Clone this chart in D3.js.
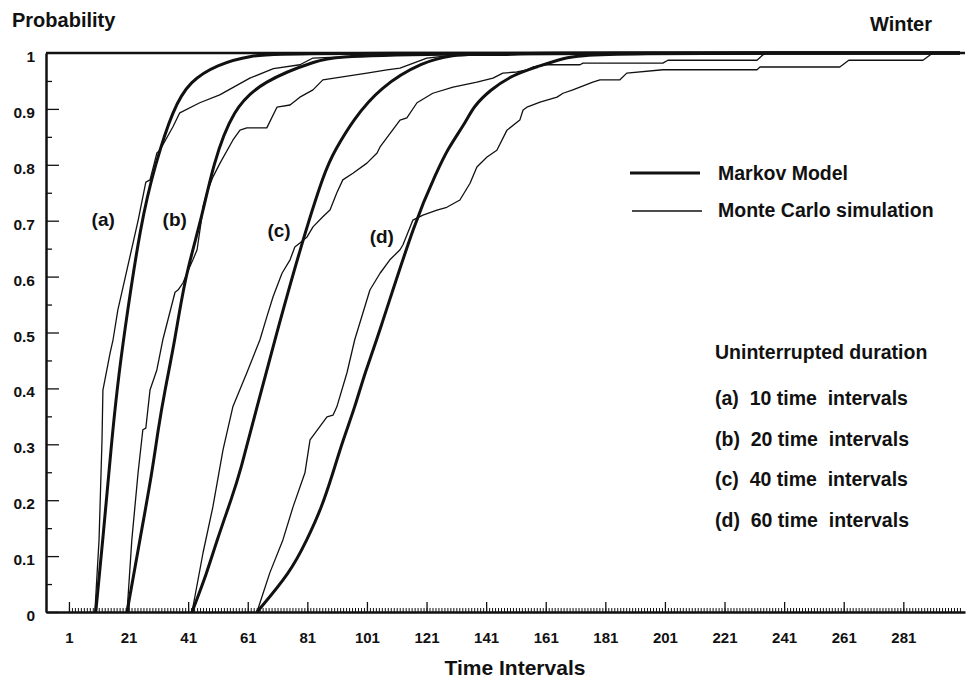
<!DOCTYPE html>
<html>
<head>
<meta charset="utf-8">
<script src="https://cdn.jsdelivr.net/npm/d3@7"></script>
<style>
  body { margin: 0; background: #fff; }
  svg text { font-family: "Liberation Sans", Arial, sans-serif; font-weight: bold; fill: #111; }
</style>
</head>
<body>
<svg id="chart" width="968" height="680"></svg>
<script>
// Cumulative probability of an uninterrupted run, per time interval [t, p]
const markovA = [[10,0],[12.4,0.13],[15.4,0.31],[17.2,0.40],[19.3,0.49],[25.2,0.70],[29.9,0.80],[35.9,0.90],[41.6,0.95],[50.7,0.979],[61.7,0.996],[75,1],[300,1]];
const markovB = [[20.5,0],[24.8,0.129],[28.9,0.249],[30.9,0.326],[33.2,0.397],[36.6,0.487],[39.9,0.599],[45.6,0.705],[49.3,0.80],[56,0.90],[66.1,0.95],[84.2,0.987],[95,1],[300,1]];
const markovC = [[42.3,0],[47.3,0.07],[50.7,0.129],[55.7,0.205],[58.4,0.249],[64.1,0.367],[70.1,0.487],[78.5,0.649],[86.9,0.791],[90.3,0.826],[96.3,0.88],[105.4,0.939],[119.8,0.985],[129.9,0.996],[139,1],[300,1]];
const markovD = [[64.1,0],[75.2,0.07],[80.9,0.129],[85.9,0.188],[89.6,0.249],[93,0.308],[97,0.367],[100.3,0.428],[104.4,0.487],[117.4,0.705],[124.8,0.791],[127.8,0.826],[134.6,0.88],[136.6,0.903],[142.3,0.934],[150,0.961],[158,0.975],[166.8,0.991],[176,1],[300,1]];

const monteA = [[9.7,0],[11.1,0.129],[12.1,0.308],[12.4,0.397],[14.8,0.463],[15.8,0.487],[17.4,0.54],[24.2,0.70],[26.8,0.769],[28.2,0.773],[30.5,0.821],[31.5,0.826],[35.9,0.868],[38.2,0.893],[44.9,0.911],[51.6,0.925],[61.7,0.955],[69.6,0.972],[78.5,0.979],[82.9,0.991],[105.4,0.996],[127.8,1],[300,1]];
const monteB = [[20.5,0],[22.1,0.129],[24.2,0.249],[25.8,0.326],[26.8,0.329],[28.2,0.397],[30.5,0.433],[32.5,0.487],[36.6,0.572],[37.6,0.576],[39.3,0.589],[40.6,0.606],[42.6,0.63],[44,0.648],[45.6,0.707],[46,0.725],[47.3,0.75],[49.3,0.778],[51.7,0.803],[56,0.844],[58.4,0.862],[60.7,0.866],[67.4,0.866],[70.8,0.903],[75.2,0.907],[78.5,0.921],[82.9,0.934],[86.2,0.952],[101,0.964],[107.7,0.97],[112.1,0.973],[121.1,0.991],[129.9,0.996],[148,0.996],[159.1,1],[300,1]];
const monteC = [[42.3,0],[46,0.106],[49.3,0.188],[52.7,0.29],[56,0.367],[60.7,0.428],[65.1,0.487],[67.4,0.528],[69.5,0.564],[72.5,0.606],[75.2,0.63],[76.8,0.653],[78.5,0.66],[80.9,0.671],[82.9,0.689],[86.2,0.707],[88.6,0.719],[90.9,0.75],[92.9,0.773],[96.3,0.785],[101,0.803],[104.4,0.821],[105.4,0.832],[112.1,0.88],[114.4,0.884],[117.8,0.911],[123.1,0.928],[129.9,0.939],[137.9,0.948],[143.3,0.955],[146.6,0.964],[151.3,0.966],[154.7,0.97],[156.7,0.975],[161.4,0.979],[172.5,0.979],[173.5,0.982],[200.3,0.982],[202,0.987],[231.9,0.987],[234.6,1],[300,1]];
const monteD = [[64.1,0],[68.4,0.07],[72.8,0.129],[76.2,0.188],[80.2,0.249],[81.9,0.308],[87.6,0.349],[89.6,0.352],[90.9,0.367],[94.3,0.428],[96.9,0.487],[102,0.576],[105.4,0.606],[108.7,0.63],[112.1,0.648],[113.1,0.657],[116.4,0.701],[119.8,0.71],[124.5,0.719],[127.8,0.724],[132.2,0.737],[135.6,0.767],[137.9,0.796],[141.3,0.814],[144.6,0.826],[148,0.862],[152.3,0.88],[153.4,0.898],[154.7,0.903],[159.1,0.912],[164.8,0.921],[166.8,0.928],[170.1,0.934],[176.8,0.948],[179.2,0.952],[185.9,0.952],[188.2,0.964],[200.3,0.97],[231.9,0.97],[232.9,0.975],[259.7,0.975],[262.7,0.987],[287.6,0.987],[290.9,1],[300,1]];

const curveLabels = ["(a)", "(b)", "(c)", "(d)"];
const curveLabelAt = [[12.5, 0.69], [36.5, 0.69], [71.5, 0.67], [106, 0.66]];
const legendNames = ["Markov Model", "Monte Carlo simulation"];
const durationTitle = "Uninterrupted duration";
const durationNotes = ["(a)  10 time  intervals", "(b)  20 time  intervals", "(c)  40 time  intervals", "(d)  60 time  intervals"];

const xTicks = [1, 21, 41, 61, 81, 101, 121, 141, 161, 181, 201, 221, 241, 261, 281];
const xMinorTicks = d3.range(1, 301);
const yTicks = [0, 0.1, 0.2, 0.3, 0.4, 0.5, 0.6, 0.7, 0.8, 0.9, 1];
const yMinorTicks = [0.05, 0.15, 0.25, 0.35, 0.45, 0.55, 0.65, 0.75, 0.85, 0.95];

const svg = d3.select("#chart");
const ink = "#111";

const x = d3.scaleLinear().domain([-6.7, 301.7]).range([46, 965]);
const y = d3.scaleLinear().domain([0, 1]).range([612, 53]);

// frame line at probability 1
svg.append("line")
  .attr("x1", x.range()[0]).attr("x2", x.range()[1])
  .attr("y1", y(1)).attr("y2", y(1))
  .attr("stroke", ink).attr("stroke-width", 2.5);

// x axis: dense unit ticks plus labelled major ticks, all pointing up
const xMinor = svg.append("g").attr("transform", `translate(0,${y(0)})`)
  .call(d3.axisBottom(x).tickValues(xMinorTicks).tickSize(-4).tickFormat(""));
xMinor.select(".domain").remove();
xMinor.selectAll(".tick line").attr("stroke", ink).attr("stroke-width", 1);

const xAxis = svg.append("g").attr("transform", `translate(0,${y(0)})`)
  .call(d3.axisBottom(x).tickValues(xTicks).tickSizeInner(-10).tickSizeOuter(0).tickPadding(20));
xAxis.select(".domain").attr("stroke", ink).attr("stroke-width", 2.5);
xAxis.selectAll(".tick line").attr("stroke", ink).attr("stroke-width", 1.3);
xAxis.selectAll(".tick text").attr("font-size", 15).attr("fill", ink);

// y axis: labelled tenths and short half-step ticks, pointing right
const yMinor = svg.append("g").attr("transform", `translate(${x.range()[0]},0)`)
  .call(d3.axisLeft(y).tickValues(yMinorTicks).tickSize(-6).tickFormat(""));
yMinor.select(".domain").remove();
yMinor.selectAll(".tick line").attr("stroke", ink).attr("stroke-width", 1.3);

const yAxis = svg.append("g").attr("transform", `translate(${x.range()[0]},0)`)
  .call(d3.axisLeft(y).tickValues(yTicks).tickSizeInner(-13).tickSizeOuter(0).tickPadding(11)
    .tickFormat(d => d === 0 ? "0" : d === 1 ? "1" : d3.format(".1f")(d)));
yAxis.select(".domain").attr("stroke", ink).attr("stroke-width", 2.5);
yAxis.selectAll(".tick line").attr("stroke", ink).attr("stroke-width", 1.3);
yAxis.selectAll(".tick text").attr("font-size", 15.5).attr("dy", "0.55em").attr("fill", ink);
yAxis.selectAll(".tick").filter(d => d === 1).select("line").remove();

// curves: smooth model curves, jagged simulated ones
const smooth = d3.line().x(d => x(d[0])).y(d => y(d[1])).curve(d3.curveBasis);
const jagged = d3.line().x(d => x(d[0])).y(d => y(d[1]));

const plot = svg.append("g").attr("fill", "none").attr("stroke", ink).attr("stroke-linejoin", "round");
[monteA, monteB, monteC, monteD].forEach(s => {
  plot.append("path").attr("d", jagged(s)).attr("stroke-width", 1.3);
});
[markovA, markovB, markovC, markovD].forEach(s => {
  plot.append("path").attr("d", smooth(s)).attr("stroke-width", 3);
});

// curve tags
svg.append("g").selectAll("text").data(curveLabels).join("text")
  .attr("x", (d, i) => x(curveLabelAt[i][0]))
  .attr("y", (d, i) => y(curveLabelAt[i][1]))
  .attr("text-anchor", "middle").attr("font-size", 19)
  .text(d => d);

// titles
svg.append("text").attr("x", 12).attr("y", 27).attr("font-size", 20).text("Probability");
svg.append("text").attr("x", 932).attr("y", 31).attr("font-size", 20).attr("text-anchor", "end").text("Winter");
svg.append("text").attr("x", 515).attr("y", 675).attr("font-size", 21).attr("text-anchor", "middle").text("Time Intervals");

// legend
const legend = svg.append("g");
legend.append("line").attr("x1", 630).attr("x2", 700).attr("y1", 173).attr("y2", 173)
  .attr("stroke", ink).attr("stroke-width", 3);
legend.append("line").attr("x1", 632).attr("x2", 702).attr("y1", 211).attr("y2", 211)
  .attr("stroke", ink).attr("stroke-width", 1.3);
legend.selectAll("text.name").data(legendNames).join("text").attr("class", "name")
  .attr("x", 718).attr("y", (d, i) => 180 + i * 37)
  .attr("font-size", 19.5).text(d => d);

// duration notes
const notes = svg.append("g");
notes.append("text").attr("x", 715).attr("y", 359).attr("font-size", 19.5).text(durationTitle);
notes.selectAll("text.note").data(durationNotes).join("text").attr("class", "note")
  .attr("x", 715).attr("y", (d, i) => 405 + i * 40.5)
  .attr("font-size", 19.5).style("white-space", "pre")
  .text(d => d);
</script>
</body>
</html>
